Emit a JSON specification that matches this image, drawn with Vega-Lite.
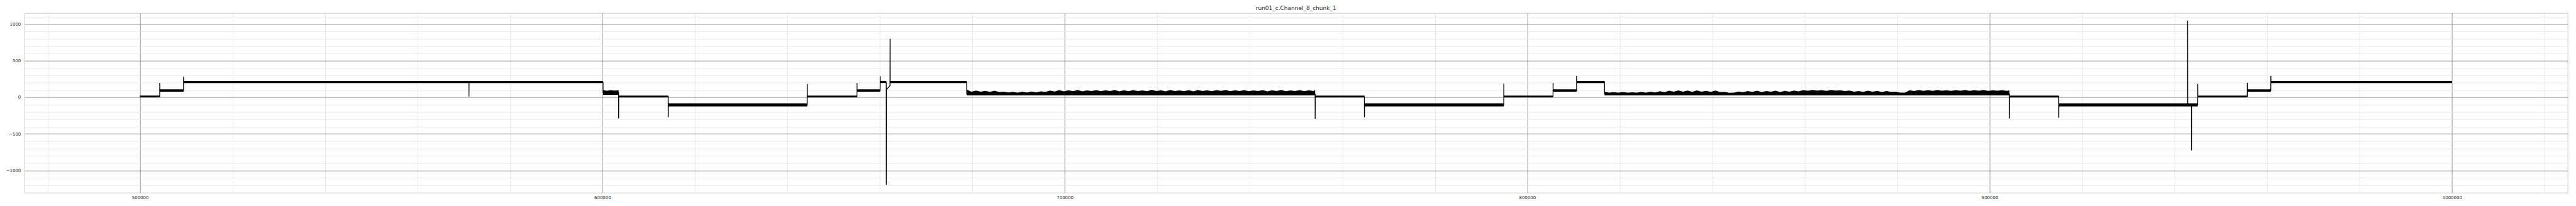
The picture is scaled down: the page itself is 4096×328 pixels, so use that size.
{
  "$schema": "https://vega.github.io/schema/vega-lite/v6.json",
  "width": 4044,
  "height": 286,
  "autosize": {"type": "none"},
  "padding": {"left": 38.7, "top": 20.7, "right": 13, "bottom": 21.5},
  "background": "white",
  "title": {"text": "run01_c.Channel_8_chunk_1", "font": "DejaVu Sans", "fontSize": 9, "fontWeight": "normal", "color": "#262626", "anchor": "middle", "offset": 3},
  "config": {
    "view": {"stroke": "#cccccc", "strokeWidth": 1},
    "axis": {"domain": false, "ticks": false, "title": null, "labelFont": "DejaVu Sans", "labelFontSize": 7, "labelColor": "#333333"}
  },
  "datasets": {
    "trace": [
      {"x": 500000, "y": 13}, {"x": 504260, "y": 13}, {"x": 504270, "y": 197}, {"x": 504300, "y": 93},
      {"x": 509415, "y": 93}, {"x": 509425, "y": 284}, {"x": 509460, "y": 209},
      {"x": 571140, "y": 209}, {"x": 571150, "y": 10}, {"x": 571170, "y": 209},
      {"x": 600140, "y": 209}, {"x": 600150, "y": 65}, {"x": 603510, "y": 65}, {"x": 603520, "y": -288}, {"x": 603540, "y": 13},
      {"x": 614230, "y": 13}, {"x": 614240, "y": -270}, {"x": 614260, "y": -102},
      {"x": 644290, "y": -102}, {"x": 644300, "y": 181}, {"x": 644320, "y": 13},
      {"x": 655060, "y": 13}, {"x": 655070, "y": 198}, {"x": 655090, "y": 94},
      {"x": 660070, "y": 94}, {"x": 660080, "y": 290}, {"x": 660100, "y": 209},
      {"x": 661390, "y": 209}, {"x": 661400, "y": -1195}, {"x": 661420, "y": 105}, {"x": 662200, "y": 159}, {"x": 662220, "y": 800}, {"x": 662240, "y": 209},
      {"x": 678780, "y": 209}, {"x": 678790, "y": 45}, {"x": 754140, "y": 45}, {"x": 754150, "y": -294}, {"x": 754170, "y": 13},
      {"x": 764790, "y": 13}, {"x": 764800, "y": -272}, {"x": 764820, "y": -102},
      {"x": 794930, "y": -102}, {"x": 794940, "y": 187}, {"x": 794960, "y": 13},
      {"x": 805590, "y": 13}, {"x": 805600, "y": 198}, {"x": 805620, "y": 94},
      {"x": 810680, "y": 94}, {"x": 810690, "y": 294}, {"x": 810710, "y": 211},
      {"x": 816720, "y": 211}, {"x": 816730, "y": 45}, {"x": 904290, "y": 45}, {"x": 904300, "y": -290}, {"x": 904320, "y": 13},
      {"x": 914950, "y": 13}, {"x": 914960, "y": -279}, {"x": 914980, "y": -102},
      {"x": 942830, "y": -102}, {"x": 942840, "y": 1050}, {"x": 942860, "y": -102},
      {"x": 943650, "y": -102}, {"x": 943660, "y": -725}, {"x": 943680, "y": -102},
      {"x": 945010, "y": -102}, {"x": 945020, "y": 185}, {"x": 945040, "y": 13},
      {"x": 955730, "y": 13}, {"x": 955740, "y": 200}, {"x": 955760, "y": 94},
      {"x": 960820, "y": 94}, {"x": 960830, "y": 294}, {"x": 960850, "y": 209},
      {"x": 1000000, "y": 209}
    ],
    "band": [
      {"s": "q1", "x": 500000, "lo": 0, "hi": 24}, {"s": "q1", "x": 504265, "lo": 0, "hi": 24},
      {"s": "q2", "x": 504280, "lo": 78, "hi": 109}, {"s": "q2", "x": 509420, "lo": 78, "hi": 109},
      {"s": "q3", "x": 509440, "lo": 196, "hi": 224}, {"s": "q3", "x": 600145, "lo": 196, "hi": 224},
      {"s": "nA", "x": 600150, "lo": 33, "hi": 98}, {"s": "nA", "x": 601000, "lo": 33, "hi": 90}, {"s": "nA", "x": 601800, "lo": 33, "hi": 99}, {"s": "nA", "x": 602600, "lo": 33, "hi": 92}, {"s": "nA", "x": 603515, "lo": 33, "hi": 96},
      {"s": "q4", "x": 603530, "lo": 0, "hi": 24}, {"s": "q4", "x": 614235, "lo": 0, "hi": 24},
      {"s": "q5", "x": 614250, "lo": -124, "hi": -81}, {"s": "q5", "x": 644295, "lo": -124, "hi": -81},
      {"s": "q6", "x": 644310, "lo": 0, "hi": 24}, {"s": "q6", "x": 655065, "lo": 0, "hi": 24},
      {"s": "q7", "x": 655080, "lo": 78, "hi": 109}, {"s": "q7", "x": 660075, "lo": 78, "hi": 109},
      {"s": "q8", "x": 660090, "lo": 196, "hi": 224}, {"s": "q8", "x": 661395, "lo": 196, "hi": 224},
      {"s": "q9", "x": 662230, "lo": 196, "hi": 224}, {"s": "q9", "x": 678785, "lo": 196, "hi": 224},
      {"s": "nB", "x": 678790, "lo": 28, "hi": 104}, {"s": "nB", "x": 679800, "lo": 28, "hi": 78}, {"s": "nB", "x": 680800, "lo": 28, "hi": 92}, {"s": "nB", "x": 681800, "lo": 28, "hi": 76},
      {"s": "nB", "x": 682800, "lo": 28, "hi": 88}, {"s": "nB", "x": 683800, "lo": 28, "hi": 74}, {"s": "nB", "x": 684800, "lo": 28, "hi": 90}, {"s": "nB", "x": 685800, "lo": 28, "hi": 72},
      {"s": "nB", "x": 686800, "lo": 28, "hi": 78}, {"s": "nB", "x": 687800, "lo": 28, "hi": 66}, {"s": "nB", "x": 688800, "lo": 28, "hi": 74}, {"s": "nB", "x": 689800, "lo": 28, "hi": 65},
      {"s": "nB", "x": 690800, "lo": 28, "hi": 76}, {"s": "nB", "x": 691800, "lo": 28, "hi": 66}, {"s": "nB", "x": 692800, "lo": 28, "hi": 80}, {"s": "nB", "x": 693800, "lo": 28, "hi": 68},
      {"s": "nB", "x": 694800, "lo": 28, "hi": 82}, {"s": "nB", "x": 695800, "lo": 28, "hi": 74}, {"s": "nB", "x": 696800, "lo": 28, "hi": 92}, {"s": "nB", "x": 697800, "lo": 28, "hi": 80},
      {"s": "nB", "x": 698800, "lo": 28, "hi": 98}, {"s": "nB", "x": 699800, "lo": 28, "hi": 82}, {"s": "nB", "x": 700800, "lo": 28, "hi": 96}, {"s": "nB", "x": 701800, "lo": 28, "hi": 84},
      {"s": "nB", "x": 702800, "lo": 28, "hi": 100}, {"s": "nB", "x": 703800, "lo": 28, "hi": 82}, {"s": "nB", "x": 704800, "lo": 28, "hi": 95}, {"s": "nB", "x": 705800, "lo": 28, "hi": 85},
      {"s": "nB", "x": 706800, "lo": 28, "hi": 99}, {"s": "nB", "x": 707800, "lo": 28, "hi": 83}, {"s": "nB", "x": 708800, "lo": 28, "hi": 97}, {"s": "nB", "x": 709800, "lo": 28, "hi": 86},
      {"s": "nB", "x": 710800, "lo": 28, "hi": 101}, {"s": "nB", "x": 711800, "lo": 28, "hi": 82}, {"s": "nB", "x": 712800, "lo": 28, "hi": 96}, {"s": "nB", "x": 713800, "lo": 28, "hi": 84},
      {"s": "nB", "x": 714800, "lo": 28, "hi": 99}, {"s": "nB", "x": 715800, "lo": 28, "hi": 86}, {"s": "nB", "x": 716800, "lo": 28, "hi": 94}, {"s": "nB", "x": 717800, "lo": 28, "hi": 83},
      {"s": "nB", "x": 718800, "lo": 28, "hi": 102}, {"s": "nB", "x": 719800, "lo": 28, "hi": 85}, {"s": "nB", "x": 720800, "lo": 28, "hi": 97}, {"s": "nB", "x": 721800, "lo": 28, "hi": 82},
      {"s": "nB", "x": 722800, "lo": 28, "hi": 100}, {"s": "nB", "x": 723800, "lo": 28, "hi": 86}, {"s": "nB", "x": 724800, "lo": 28, "hi": 95}, {"s": "nB", "x": 725800, "lo": 28, "hi": 84},
      {"s": "nB", "x": 726800, "lo": 28, "hi": 99}, {"s": "nB", "x": 727800, "lo": 28, "hi": 82}, {"s": "nB", "x": 728800, "lo": 28, "hi": 101}, {"s": "nB", "x": 729800, "lo": 28, "hi": 85},
      {"s": "nB", "x": 730800, "lo": 28, "hi": 96}, {"s": "nB", "x": 731800, "lo": 28, "hi": 83}, {"s": "nB", "x": 732800, "lo": 28, "hi": 98}, {"s": "nB", "x": 733800, "lo": 28, "hi": 87},
      {"s": "nB", "x": 734800, "lo": 28, "hi": 100}, {"s": "nB", "x": 735800, "lo": 28, "hi": 84}, {"s": "nB", "x": 736800, "lo": 28, "hi": 97}, {"s": "nB", "x": 737800, "lo": 28, "hi": 86},
      {"s": "nB", "x": 738800, "lo": 28, "hi": 99}, {"s": "nB", "x": 739800, "lo": 28, "hi": 83}, {"s": "nB", "x": 740800, "lo": 28, "hi": 94}, {"s": "nB", "x": 741800, "lo": 28, "hi": 85},
      {"s": "nB", "x": 742800, "lo": 28, "hi": 98}, {"s": "nB", "x": 743800, "lo": 28, "hi": 82}, {"s": "nB", "x": 744800, "lo": 28, "hi": 96}, {"s": "nB", "x": 745800, "lo": 28, "hi": 86},
      {"s": "nB", "x": 746800, "lo": 28, "hi": 100}, {"s": "nB", "x": 747800, "lo": 28, "hi": 83}, {"s": "nB", "x": 748800, "lo": 28, "hi": 95}, {"s": "nB", "x": 749800, "lo": 28, "hi": 85},
      {"s": "nB", "x": 750800, "lo": 28, "hi": 98}, {"s": "nB", "x": 751800, "lo": 28, "hi": 84}, {"s": "nB", "x": 752800, "lo": 28, "hi": 97}, {"s": "nB", "x": 753800, "lo": 28, "hi": 86},
      {"s": "nB", "x": 754145, "lo": 28, "hi": 100},
      {"s": "q10", "x": 754160, "lo": 0, "hi": 24}, {"s": "q10", "x": 764795, "lo": 0, "hi": 24},
      {"s": "q11", "x": 764810, "lo": -124, "hi": -81}, {"s": "q11", "x": 794935, "lo": -124, "hi": -81},
      {"s": "q12", "x": 794950, "lo": 0, "hi": 24}, {"s": "q12", "x": 805595, "lo": 0, "hi": 24},
      {"s": "q13", "x": 805610, "lo": 78, "hi": 109}, {"s": "q13", "x": 810685, "lo": 78, "hi": 109},
      {"s": "q14", "x": 810700, "lo": 196, "hi": 224}, {"s": "q14", "x": 816725, "lo": 196, "hi": 224},
      {"s": "nC", "x": 816730, "lo": 28, "hi": 80}, {"s": "nC", "x": 817700, "lo": 28, "hi": 64}, {"s": "nC", "x": 818700, "lo": 28, "hi": 70}, {"s": "nC", "x": 819700, "lo": 28, "hi": 63},
      {"s": "nC", "x": 820700, "lo": 28, "hi": 72}, {"s": "nC", "x": 821700, "lo": 28, "hi": 64}, {"s": "nC", "x": 822700, "lo": 28, "hi": 68}, {"s": "nC", "x": 823700, "lo": 28, "hi": 63},
      {"s": "nC", "x": 824700, "lo": 28, "hi": 74}, {"s": "nC", "x": 825700, "lo": 28, "hi": 65}, {"s": "nC", "x": 826700, "lo": 28, "hi": 78}, {"s": "nC", "x": 827700, "lo": 28, "hi": 67},
      {"s": "nC", "x": 828700, "lo": 28, "hi": 84}, {"s": "nC", "x": 829700, "lo": 28, "hi": 70}, {"s": "nC", "x": 830700, "lo": 28, "hi": 90}, {"s": "nC", "x": 831700, "lo": 28, "hi": 76},
      {"s": "nC", "x": 832700, "lo": 28, "hi": 94}, {"s": "nC", "x": 833700, "lo": 28, "hi": 78}, {"s": "nC", "x": 834700, "lo": 28, "hi": 92}, {"s": "nC", "x": 835700, "lo": 28, "hi": 74},
      {"s": "nC", "x": 836700, "lo": 28, "hi": 95}, {"s": "nC", "x": 837700, "lo": 28, "hi": 78}, {"s": "nC", "x": 838700, "lo": 28, "hi": 88}, {"s": "nC", "x": 839700, "lo": 28, "hi": 75},
      {"s": "nC", "x": 840700, "lo": 28, "hi": 93}, {"s": "nC", "x": 841700, "lo": 28, "hi": 72}, {"s": "nC", "x": 842700, "lo": 28, "hi": 74}, {"s": "nC", "x": 843700, "lo": 28, "hi": 62},
      {"s": "nC", "x": 844700, "lo": 28, "hi": 63}, {"s": "nC", "x": 845700, "lo": 28, "hi": 80}, {"s": "nC", "x": 846700, "lo": 28, "hi": 70}, {"s": "nC", "x": 847700, "lo": 28, "hi": 86},
      {"s": "nC", "x": 848700, "lo": 28, "hi": 74}, {"s": "nC", "x": 849700, "lo": 28, "hi": 90}, {"s": "nC", "x": 850700, "lo": 28, "hi": 72}, {"s": "nC", "x": 851700, "lo": 28, "hi": 85},
      {"s": "nC", "x": 852700, "lo": 28, "hi": 76}, {"s": "nC", "x": 853700, "lo": 28, "hi": 89}, {"s": "nC", "x": 854700, "lo": 28, "hi": 73}, {"s": "nC", "x": 855700, "lo": 28, "hi": 88},
      {"s": "nC", "x": 856700, "lo": 28, "hi": 78}, {"s": "nC", "x": 857700, "lo": 28, "hi": 92}, {"s": "nC", "x": 858700, "lo": 28, "hi": 82}, {"s": "nC", "x": 859700, "lo": 28, "hi": 98},
      {"s": "nC", "x": 860700, "lo": 28, "hi": 90}, {"s": "nC", "x": 861700, "lo": 28, "hi": 100}, {"s": "nC", "x": 862700, "lo": 28, "hi": 91}, {"s": "nC", "x": 863700, "lo": 28, "hi": 98},
      {"s": "nC", "x": 864700, "lo": 28, "hi": 88}, {"s": "nC", "x": 865700, "lo": 28, "hi": 101}, {"s": "nC", "x": 866700, "lo": 28, "hi": 91}, {"s": "nC", "x": 867700, "lo": 28, "hi": 97},
      {"s": "nC", "x": 868700, "lo": 28, "hi": 86}, {"s": "nC", "x": 869700, "lo": 28, "hi": 92}, {"s": "nC", "x": 870700, "lo": 28, "hi": 76}, {"s": "nC", "x": 871700, "lo": 28, "hi": 86},
      {"s": "nC", "x": 872700, "lo": 28, "hi": 74}, {"s": "nC", "x": 873700, "lo": 28, "hi": 90}, {"s": "nC", "x": 874700, "lo": 28, "hi": 78}, {"s": "nC", "x": 875700, "lo": 28, "hi": 88},
      {"s": "nC", "x": 876700, "lo": 28, "hi": 72}, {"s": "nC", "x": 877700, "lo": 28, "hi": 85}, {"s": "nC", "x": 878700, "lo": 28, "hi": 75}, {"s": "nC", "x": 879700, "lo": 28, "hi": 76},
      {"s": "nC", "x": 880700, "lo": 28, "hi": 63}, {"s": "nC", "x": 881700, "lo": 28, "hi": 64}, {"s": "nC", "x": 882700, "lo": 28, "hi": 96}, {"s": "nC", "x": 883700, "lo": 28, "hi": 86},
      {"s": "nC", "x": 884700, "lo": 28, "hi": 100}, {"s": "nC", "x": 885700, "lo": 28, "hi": 88}, {"s": "nC", "x": 886700, "lo": 28, "hi": 98}, {"s": "nC", "x": 887700, "lo": 28, "hi": 87},
      {"s": "nC", "x": 888700, "lo": 28, "hi": 101}, {"s": "nC", "x": 889700, "lo": 28, "hi": 90}, {"s": "nC", "x": 890700, "lo": 28, "hi": 97}, {"s": "nC", "x": 891700, "lo": 28, "hi": 88},
      {"s": "nC", "x": 892700, "lo": 28, "hi": 99}, {"s": "nC", "x": 893700, "lo": 28, "hi": 89}, {"s": "nC", "x": 894700, "lo": 28, "hi": 100}, {"s": "nC", "x": 895700, "lo": 28, "hi": 87},
      {"s": "nC", "x": 896700, "lo": 28, "hi": 98}, {"s": "nC", "x": 897700, "lo": 28, "hi": 90}, {"s": "nC", "x": 898700, "lo": 28, "hi": 101}, {"s": "nC", "x": 899700, "lo": 28, "hi": 88},
      {"s": "nC", "x": 900700, "lo": 28, "hi": 97}, {"s": "nC", "x": 901700, "lo": 28, "hi": 90}, {"s": "nC", "x": 902700, "lo": 28, "hi": 99}, {"s": "nC", "x": 903700, "lo": 28, "hi": 88},
      {"s": "nC", "x": 904295, "lo": 28, "hi": 95},
      {"s": "q15", "x": 904310, "lo": 0, "hi": 24}, {"s": "q15", "x": 914955, "lo": 0, "hi": 24},
      {"s": "q16", "x": 914970, "lo": -124, "hi": -81}, {"s": "q16", "x": 945015, "lo": -124, "hi": -81},
      {"s": "q17", "x": 945030, "lo": 0, "hi": 24}, {"s": "q17", "x": 955735, "lo": 0, "hi": 24},
      {"s": "q18", "x": 955750, "lo": 78, "hi": 109}, {"s": "q18", "x": 960825, "lo": 78, "hi": 109},
      {"s": "q19", "x": 960840, "lo": 196, "hi": 224}, {"s": "q19", "x": 1000000, "lo": 196, "hi": 224}
    ]
  },
  "resolve": {"axis": {"x": "independent", "y": "independent"}},
  "layer": [
    {
      "data": {"name": "band"},
      "mark": {"type": "area", "color": "black", "interpolate": "linear"},
      "encoding": {
        "x": {"field": "x", "type": "quantitative", "scale": {"domain": [475000, 1025000], "nice": false, "zero": false},
              "axis": {"orient": "top", "labels": false, "grid": true, "gridColor": "#e5e5e5", "gridWidth": 0.8,
                       "values": [480000, 520000, 540000, 560000, 580000, 620000, 640000, 660000, 680000, 720000, 740000, 760000, 780000, 820000, 840000, 860000, 880000, 920000, 940000, 960000, 980000, 1020000]}},
        "y": {"field": "lo", "type": "quantitative", "scale": {"domain": [-1303, 1153], "nice": false, "zero": false},
              "axis": {"orient": "right", "labels": false, "grid": true, "gridColor": "#e5e5e5", "gridWidth": 0.8,
                       "values": [-1200, -1100, -900, -800, -700, -600, -400, -300, -200, -100, 100, 200, 300, 400, 600, 700, 800, 900, 1100]}},
        "y2": {"field": "hi"},
        "detail": {"field": "s", "type": "nominal"}
      }
    },
    {
      "data": {"name": "trace"},
      "mark": {"type": "line", "color": "black", "strokeWidth": 1.3, "interpolate": "linear"},
      "encoding": {
        "x": {"field": "x", "type": "quantitative", "scale": {"domain": [475000, 1025000], "nice": false, "zero": false},
              "axis": {"orient": "bottom", "grid": true, "gridColor": "#808080", "gridWidth": 0.8, "format": "d", "labelPadding": 4,
                       "values": [500000, 600000, 700000, 800000, 900000, 1000000]}},
        "y": {"field": "y", "type": "quantitative", "scale": {"domain": [-1303, 1153], "nice": false, "zero": false},
              "axis": {"orient": "left", "grid": true, "gridColor": "#808080", "gridWidth": 0.8, "format": "d", "labelPadding": 6,
                       "values": [-1000, -500, 0, 500, 1000]}}
      }
    }
  ]
}
